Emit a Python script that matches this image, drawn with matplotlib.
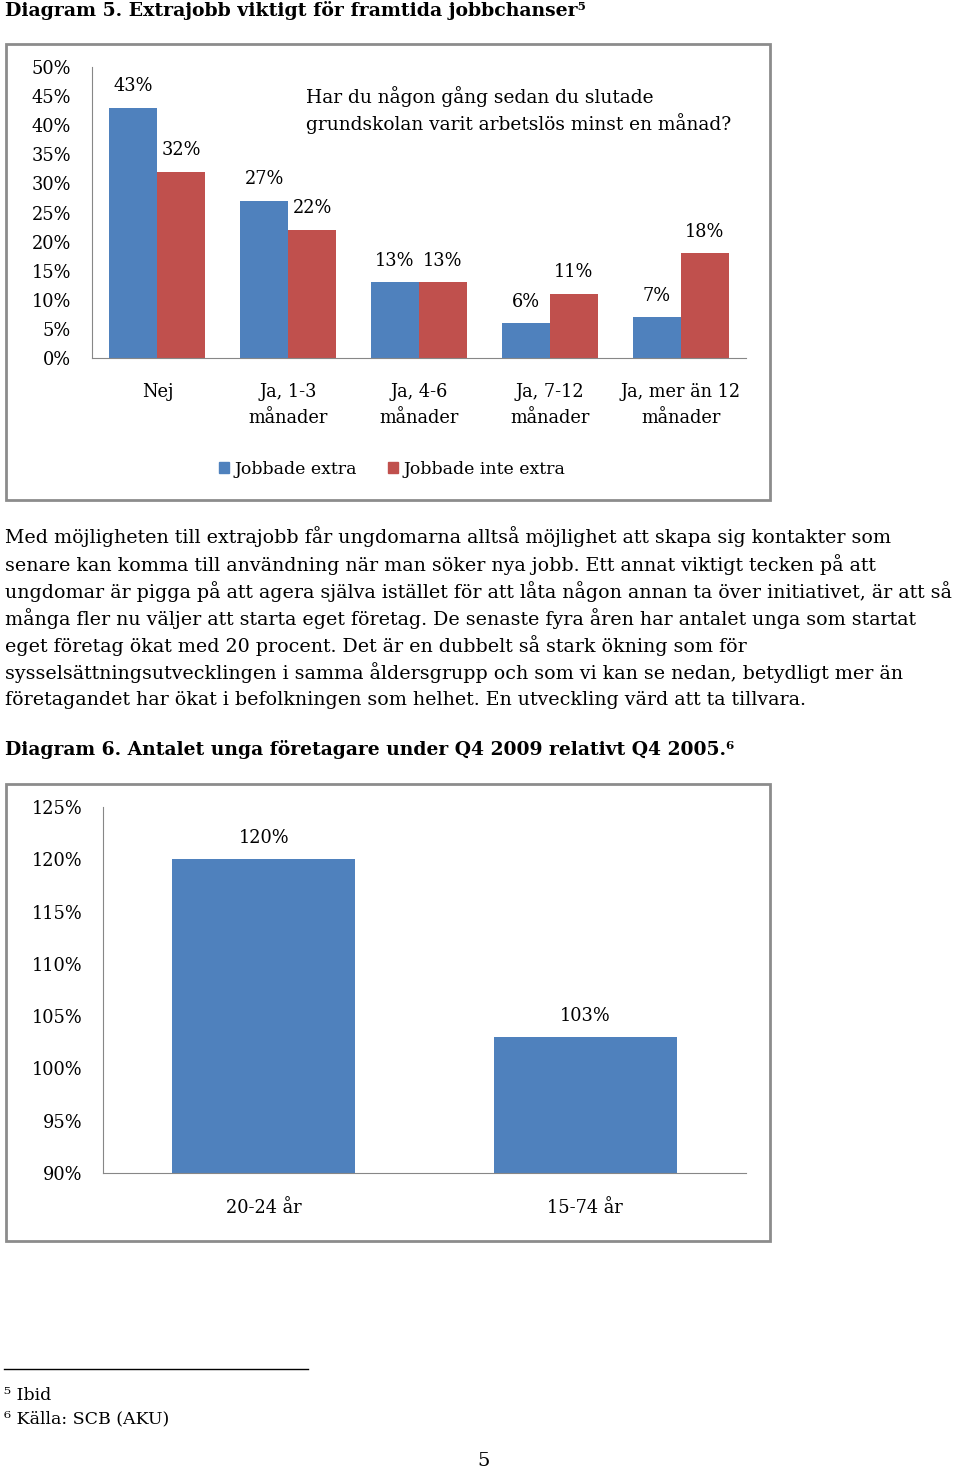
import matplotlib.pyplot as plt
import numpy as np
from matplotlib.patches import Rectangle, Patch
from matplotlib.lines import Line2D

# data
categories1 = ['Nej', 'Ja, 1-3\nmånader', 'Ja, 4-6\nmånader', 'Ja, 7-12\nmånader', 'Ja, mer än 12\nmånader']
jobbade_extra = [43, 27, 13, 6, 7]
jobbade_inte_extra = [32, 22, 13, 11, 18]
yticks1 = [0, 5, 10, 15, 20, 25, 30, 35, 40, 45, 50]

categories2 = ['20-24 år', '15-74 år']
ratio2 = [120, 103]
yticks2 = [90, 95, 100, 105, 110, 115, 120, 125]

body_lines = [
    "Med möjligheten till extrajobb får ungdomarna alltså möjlighet att skapa sig kontakter som",
    "senare kan komma till användning när man söker nya jobb. Ett annat viktigt tecken på att",
    "ungdomar är pigga på att agera själva istället för att låta någon annan ta över initiativet, är att så",
    "många fler nu väljer att starta eget företag. De senaste fyra åren har antalet unga som startat",
    "eget företag ökat med 20 procent. Det är en dubbelt så stark ökning som för",
    "sysselsättningsutvecklingen i samma åldersgrupp och som vi kan se nedan, betydligt mer än",
    "företagandet har ökat i befolkningen som helhet. En utveckling värd att ta tillvara.",
]

BLUE = '#4F81BD'
RED = '#C0504D'
GRAY = '#878787'
FONT = ['DejaVu Serif', 'DejaVu Sans']
plt.rcParams['font.family'] = FONT

W, H = 960, 1473
fig = plt.figure(figsize=(W / 100, H / 100), dpi=100)

def fx(px):
    return px / W

def fy(py):
    return 1 - py / H

def axes_px(l, t, r, b):
    return fig.add_axes([fx(l), fy(b), fx(r) - fx(l), (b - t) / H])

# frames
for (l, t, r, b) in [(6, 44, 770, 500), (6, 784, 770, 1241)]:
    fig.patches.append(Rectangle((fx(l), fy(b)), fx(r) - fx(l), (b - t) / H,
                                 transform=fig.transFigure, fill=False,
                                 edgecolor='#8c8c8c', linewidth=2))

# headings
fig.text(fx(5), fy(10), "Diagram 5. Extrajobb viktigt för framtida jobbchanser⁵",
         fontsize=13.55, fontweight='bold', va='center', ha='left')
fig.text(fx(5), fy(749), "Diagram 6. Antalet unga företagare under Q4 2009 relativt Q4 2005.⁶",
         fontsize=13.5, fontweight='bold', va='center', ha='left')

# chart 1
ax1 = axes_px(92, 67, 746, 358)
x = np.arange(len(categories1))
w = 0.367
b1 = ax1.bar(x - w / 2, jobbade_extra, w, color=BLUE, label='Jobbade extra')
b2 = ax1.bar(x + w / 2, jobbade_inte_extra, w, color=RED, label='Jobbade inte extra')
for bars in (b1, b2):
    for r in bars:
        ax1.annotate('%d%%' % r.get_height(), (r.get_x() + r.get_width() / 2, r.get_height()),
                     xytext=(0, 9), textcoords='offset points', ha='center', va='bottom', fontsize=12.8)
ax1.set_xlim(-0.5, len(categories1) - 0.5)
ax1.set_ylim(0, 50)
ax1.set_yticks(yticks1)
ax1.set_yticklabels(['%d%%' % v for v in yticks1])
ax1.set_xticks(x)
ax1.set_xticklabels(categories1, linespacing=1.55)
ax1.tick_params(length=0, labelsize=12.8)
ax1.tick_params(axis='y', pad=15)
ax1.tick_params(axis='x', pad=18)
for s in ['top', 'right']:
    ax1.spines[s].set_visible(False)
for s in ['left', 'bottom']:
    ax1.spines[s].set_color(GRAY)
ax1.text(fx(306), fy(110), "Har du någon gång sedan du slutade\ngrundskolan varit arbetslös minst en månad?",
         transform=fig.transFigure, fontsize=13.4, ha='left', va='center', linespacing=1.4)
handles = [Patch(color=BLUE, label='Jobbade extra'), Patch(color=RED, label='Jobbade inte extra')]
fig.legend(handles=handles, loc='center', bbox_to_anchor=(fx(392), fy(469)), ncol=2,
           frameon=False, fontsize=12.5, handlelength=0.6, handleheight=0.6,
           handletextpad=0.3, columnspacing=1.8)

# body text
for i, line in enumerate(body_lines):
    fig.text(fx(5), fy(537 + i * 27.2), line, fontsize=13.7, ha='left', va='center')

# chart 2
ax2 = axes_px(103, 807, 746, 1173)
x2 = np.arange(len(categories2))
bars = ax2.bar(x2, ratio2, 0.57, color=BLUE)
for r in bars:
    ax2.annotate('%d%%' % r.get_height(), (r.get_x() + r.get_width() / 2, r.get_height()),
                 xytext=(0, 9), textcoords='offset points', ha='center', va='bottom', fontsize=12.8)
ax2.set_xlim(-0.5, 1.5)
ax2.set_ylim(90, 125)
ax2.set_yticks(yticks2)
ax2.set_yticklabels(['%d%%' % v for v in yticks2])
ax2.set_xticks(x2)
ax2.set_xticklabels(categories2)
ax2.tick_params(length=0, labelsize=12.8)
ax2.tick_params(axis='y', pad=15)
ax2.tick_params(axis='x', pad=19)
for s in ['top', 'right']:
    ax2.spines[s].set_visible(False)
for s in ['left', 'bottom']:
    ax2.spines[s].set_color(GRAY)

# footnotes
fig.add_artist(Line2D([fx(4), fx(308)], [fy(1369), fy(1369)], transform=fig.transFigure,
                      color='black', linewidth=1))
fig.text(fx(4), fy(1395), "⁵ Ibid", fontsize=12.5, ha='left', va='center')
fig.text(fx(4), fy(1419), "⁶ Källa: SCB (AKU)", fontsize=12.5, ha='left', va='center')
fig.text(fx(484), fy(1461), "5", fontsize=14, ha='center', va='center')

fig.savefig('out.png', dpi=100)
